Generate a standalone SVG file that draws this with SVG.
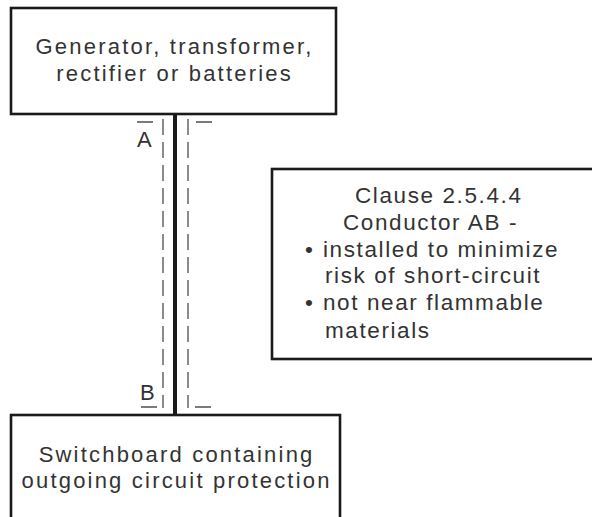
<svg xmlns="http://www.w3.org/2000/svg" width="592" height="517" viewBox="0 0 592 517">
<style>
.box{fill:#fff;stroke:#1a1a1a;stroke-width:2.6}
.t{font-family:"Liberation Sans",Arial,sans-serif;font-size:22px;fill:#333;letter-spacing:2.2px;text-anchor:middle}
.l{font-family:"Liberation Sans",Arial,sans-serif;font-size:22px;fill:#333;letter-spacing:2px}
.r{font-family:"Liberation Sans",Arial,sans-serif;font-size:22.5px;fill:#333;letter-spacing:1.6px}
.cond{stroke:#1a1a1a;stroke-width:4;fill:none}
.dash{stroke:#666;stroke-width:1.5;stroke-dasharray:16 7;fill:none}
.tick{stroke:#333;stroke-width:1.3;fill:none}
</style>
<rect width="592" height="517" fill="#fff"/>
<g id="connectors">
<line class="cond" x1="175" y1="114" x2="175" y2="415"/>
<line class="dash" x1="163" y1="119" x2="163" y2="408"/>
<line class="dash" x1="188" y1="119" x2="188" y2="408"/>
<line class="tick" x1="137" y1="122" x2="153" y2="122"/>
<line class="tick" x1="196" y1="122" x2="212" y2="122"/>
<line class="tick" x1="141" y1="407" x2="157" y2="407"/>
<line class="tick" x1="195" y1="407" x2="211" y2="407"/>
<text class="l" x="137" y="147">A</text>
<text class="l" x="140" y="400">B</text>
</g>
<g id="source">
<rect class="box" x="11" y="8" width="325" height="106"/>
<text class="t" x="174.6" y="54">Generator, transformer,</text>
<text class="t" x="174.6" y="81">rectifier or batteries</text>
</g>
<g id="switchboard">
<rect class="box" x="11" y="415" width="329" height="120"/>
<text class="t" x="176.6" y="462">Switchboard containing</text>
<text class="t" x="176.6" y="488">outgoing circuit protection</text>
</g>
<g id="note">
<rect class="box" x="272" y="169" width="330" height="190"/>
<text class="r" x="355" y="203">Clause 2.5.4.4</text>
<text class="r" x="343" y="230">Conductor AB -</text>
<text class="r" x="305" y="257">•</text>
<text class="r" x="323" y="257">installed to minimize</text>
<text class="r" x="325" y="283">risk of short-circuit</text>
<text class="r" x="305" y="310">•</text>
<text class="r" x="323" y="310">not near flammable</text>
<text class="r" x="325" y="338">materials</text>
</g>
</svg>
